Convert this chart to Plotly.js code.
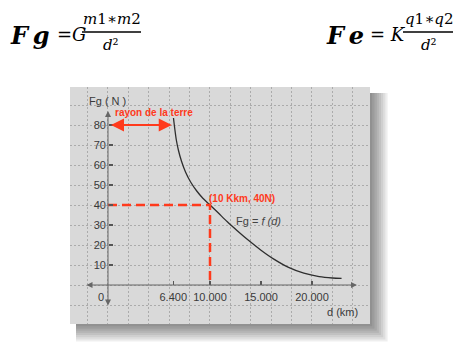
<!DOCTYPE html>
<html>
<head>
<meta charset="utf-8">
<script src="https://cdn.plot.ly/plotly-3.0.1.min.js"></script>
<style>html,body{margin:0;padding:0;background:#fff;}#chart{width:465px;height:360px;}</style>
</head>
<body>
<div id="chart"></div>
<script>
// ---- data ----
var curveD  = [6420, 6550, 6700, 6900, 7200, 7600, 8100, 8700, 9300, 10000, 10800, 11700, 12700, 13800, 15000, 16300, 17700, 19200, 20700, 22000, 22900];
var curveFg = [83.5, 78.0, 72.5, 67.5, 62.0, 56.5, 51.5, 47.0, 43.4, 40.0, 36.1, 31.6, 27.0, 22.2, 17.4, 12.8, 8.8, 5.9, 4.2, 3.5, 3.3];
var earthRadius = 6400;
var earthArrowFg = 80;
var pointD = 10000;
var pointFg = 40;
var xTickVals = [6400, 10000, 15000, 20000];
var xTickText = ['6.400', '10.000', '15.000', '20.000'];
var yTickVals = [10, 20, 30, 40, 50, 60, 70, 80];
var yTickText = ['10', '20', '30', '40', '50', '60', '70', '80'];
var pointLabel = '(10 Kkm, 40N)';
var earthLabel = 'rayon de la terre';
var curveLabel = 'Fg = <i>f (d)</i>';

// ---- geometry helpers ----
var X0 = -3725, X1 = 25687, Y0 = -19.5, Y1 = 99;
function px2x(p){ return (p - 70) / 300; }
function py2y(p){ return (324 - p) / 237; }

var red = '#ff3a1c';
var ink = '#3a3a3a';

var traces = [
  {x: curveD, y: curveFg, mode: 'lines', line: {color: '#2e2e2e', width: 1.3, shape: 'spline', smoothing: 0.8},
   hoverinfo: 'skip', showlegend: false},
  {x: [0, pointD, pointD], y: [pointFg, pointFg, 0], mode: 'lines', xaxis: 'x2', yaxis: 'y2',
   line: {color: red, width: 2.5, dash: '9px,5px'}, hoverinfo: 'skip', showlegend: false}
];

var shapes = [];
for (var i = 1; i <= 8; i++) {
  shapes.push({type: 'rect', xref: 'paper', yref: 'paper', layer: 'below',
    x0: px2x(76), x1: px2x(370 + 2.2 * i), y0: py2y(324 + 2.2 * i), y1: py2y(93),
    line: {width: 0}, fillcolor: 'rgba(0,0,0,0.065)'});
}
shapes.push({type: 'rect', xref: 'paper', yref: 'paper', layer: 'below',
  x0: 0, x1: 1, y0: 0, y1: 1, line: {width: 0}, fillcolor: '#d9d9d9'});
// fraction bars of the formulas
shapes.push({type: 'line', xref: 'paper', yref: 'paper', x0: px2x(82), x1: px2x(141), y0: py2y(32), y1: py2y(32), line: {color: '#000', width: 1.6}});
shapes.push({type: 'line', xref: 'paper', yref: 'paper', x0: px2x(403), x1: px2x(453), y0: py2y(32), y1: py2y(32), line: {color: '#000', width: 1.6}});

var serif = 'DejaVu Serif, Liberation Serif, serif';
function pa(text, px, py, size, extra) {
  var a = {text: text, xref: 'paper', yref: 'paper', x: px2x(px), y: py2y(py), showarrow: false,
    xanchor: 'center', yanchor: 'middle', font: {family: serif, size: size, color: '#000'}};
  for (var k in extra) a[k] = extra[k];
  return a;
}

var annotations = [
  // axes with arrows
  {xref: 'x', yref: 'y', axref: 'x', ayref: 'y', x: 24410, y: 0, ax: -2255, ay: 0, showarrow: true,
   arrowside: 'end+start', arrowhead: 2, arrowsize: 1.2, arrowwidth: 1, arrowcolor: '#666', text: ''},
  {xref: 'x', yref: 'y', axref: 'x', ayref: 'y', x: 0, y: 87, ax: 0, ay: -11, showarrow: true,
   arrowside: 'end+start', arrowhead: 2, arrowsize: 1.2, arrowwidth: 1, arrowcolor: '#666', text: ''},
  // earth radius arrow
  {xref: 'x', yref: 'y', axref: 'x', ayref: 'y', x: earthRadius - 150, y: earthArrowFg, ax: 150, ay: earthArrowFg, showarrow: true,
   arrowside: 'end+start', arrowhead: 2, arrowsize: 1.3, arrowwidth: 2, arrowcolor: red, text: ''},
  {xref: 'x', yref: 'y', x: 4500, y: 86.3, text: '<b>' + earthLabel + '</b>', showarrow: false,
   font: {family: 'Liberation Sans, Arial, sans-serif', size: 10, color: red}},
  {xref: 'x', yref: 'y', x: 13150, y: 43.5, text: '<b>' + pointLabel + '</b>', showarrow: false,
   font: {family: 'Liberation Sans, Arial, sans-serif', size: 10, color: red}},
  {xref: 'x', yref: 'y', x: 14750, y: 32, text: curveLabel, showarrow: false,
   font: {family: 'Liberation Sans, Arial, sans-serif', size: 11, color: '#444'}},
  {xref: 'x', yref: 'y', x: 0, y: 92, text: 'Fg ( N )', showarrow: false,
   font: {family: 'Liberation Sans, Arial, sans-serif', size: 11, color: ink}},
  {xref: 'x', yref: 'y', x: 22990, y: -13.5, text: 'd (km)', showarrow: false,
   font: {family: 'Liberation Sans, Arial, sans-serif', size: 11, color: ink}},
  {xref: 'x', yref: 'y', x: -715, y: -6, text: '0', showarrow: false,
   font: {family: 'Liberation Sans, Arial, sans-serif', size: 11, color: ink}},
  // formulas
  pa('<b><i>F\u2009g</i></b>', 30, 35, 24),
  pa('=<i>G</i>', 71, 34, 18),
  pa('<i>m</i>1\u2217<i>m</i>2', 111.5, 19, 15),
  pa('<i>d</i>\u00b2', 111, 45, 15),
  pa('<b><i>F\u2009e</i></b>', 345, 35, 24),
  pa('= <i>K</i>', 388, 34, 18),
  pa('<i>q</i>1\u2217<i>q</i>2', 429, 19, 15),
  pa('<i>d</i>\u00b2', 429, 45, 15)
];

var gridAxis = {showgrid: true, gridcolor: '#ababab', griddash: '2px,2px', gridwidth: 1,
  showticklabels: false, zeroline: false, ticks: '', showline: false, fixedrange: true};

var layout = {
  width: 465, height: 360,
  margin: {l: 70, r: 95, t: 87, b: 36},
  paper_bgcolor: '#ffffff', plot_bgcolor: 'rgba(0,0,0,0)',
  showlegend: false,
  xaxis: Object.assign({range: [X0, X1], dtick: 2000, tick0: 0}, gridAxis),
  yaxis: Object.assign({range: [Y0, Y1], dtick: 10, tick0: 0}, gridAxis),
  xaxis2: {overlaying: 'x', range: [X0, X1], anchor: 'free', position: (0 - Y0) / (Y1 - Y0), side: 'bottom',
    tickmode: 'array', tickvals: xTickVals, ticktext: xTickText, ticks: 'inside', ticklen: 4, tickwidth: 1.2,
    tickcolor: '#555', showgrid: false, zeroline: false, showline: false, ticklabelstandoff: 4,
    tickfont: {family: 'Liberation Sans, Arial, sans-serif', size: 11, color: ink}, fixedrange: true},
  yaxis2: {overlaying: 'y', range: [Y0, Y1], anchor: 'free', position: (0 - X0) / (X1 - X0), side: 'left',
    tickmode: 'array', tickvals: yTickVals, ticktext: yTickText, ticks: 'inside', ticklen: 4, tickwidth: 1.2,
    tickcolor: '#555', showgrid: false, zeroline: false, showline: false, ticklabelstandoff: 2,
    tickfont: {family: 'Liberation Sans, Arial, sans-serif', size: 11, color: ink}, fixedrange: true},
  shapes: shapes,
  annotations: annotations
};

Plotly.newPlot('chart', traces, layout, {displayModeBar: false, staticPlot: true});
</script>
</body>
</html>
